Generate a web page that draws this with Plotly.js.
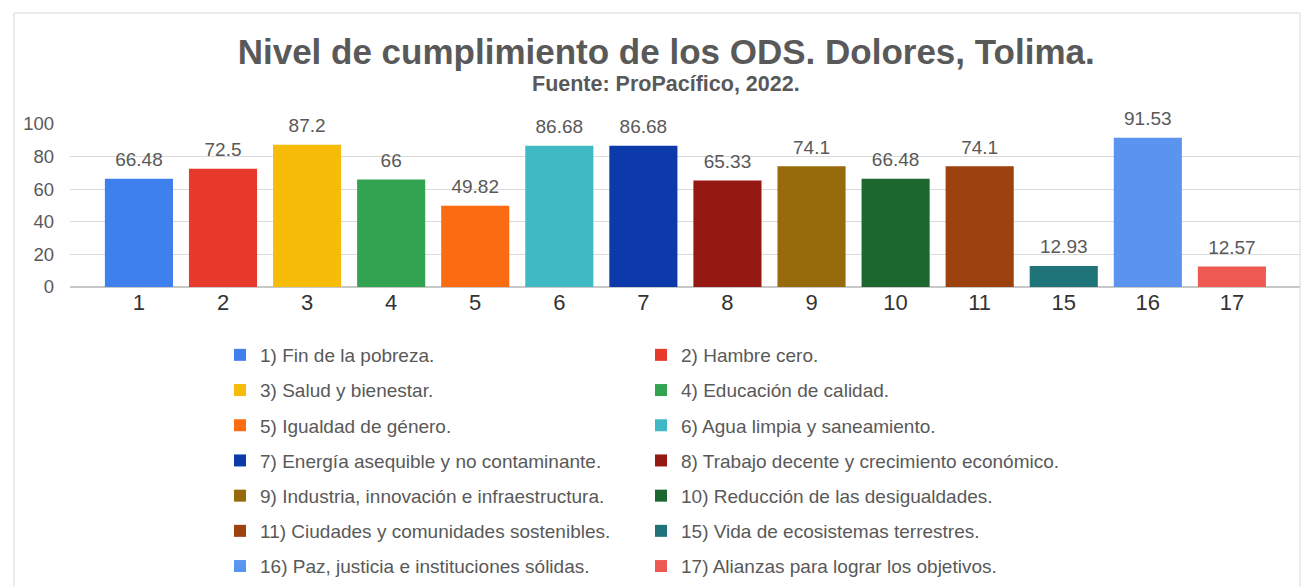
<!DOCTYPE html>
<html>
<head>
<meta charset="utf-8">
<script src="https://cdn.plot.ly/plotly-3.0.1.min.js"></script>
<style>
html,body{margin:0;padding:0;background:#fff;}
#chart{width:1314px;height:586px;}
</style>
</head>
<body>
<div id="chart"></div>
<script>
const categories = ["1","2","3","4","5","6","7","8","9","10","11","15","16","17"];
const values = [66.48, 72.5, 87.2, 66, 49.82, 86.68, 86.68, 65.33, 74.1, 66.48, 74.1, 12.93, 91.53, 12.57];
const valueLabels = ["66.48","72.5","87.2","66","49.82","86.68","86.68","65.33","74.1","66.48","74.1","12.93","91.53","12.57"];
const legendNames = [
  "1) Fin de la pobreza.",
  "2) Hambre cero.",
  "3) Salud y bienestar.",
  "4) Educación de calidad.",
  "5) Igualdad de género.",
  "6) Agua limpia y saneamiento.",
  "7) Energía asequible y no contaminante.",
  "8) Trabajo decente y crecimiento económico.",
  "9) Industria, innovación e infraestructura.",
  "10) Reducción de las desigualdades.",
  "11) Ciudades y comunidades sostenibles.",
  "15) Vida de ecosistemas terrestres.",
  "16) Paz, justicia e instituciones sólidas.",
  "17) Alianzas para lograr los objetivos."
];
const colors = ["#3f80ef","#e8392d","#f7bb0a","#32a350","#fb6c12","#3fbac4","#0c3aaa","#961812","#976b0c","#1c6630","#9c420f","#1e7479","#5a94ee","#ee5a52"];

const FONT = "Liberation Sans, Arial, sans-serif";

const traces = categories.map((c, i) => ({
  type: "bar",
  x: [c],
  y: [values[i]],
  name: legendNames[i],
  legendgroup: "g" + i,
  legend: (i % 2 === 0) ? "legend" : "legend2",
  marker: {color: colors[i], line: {width: 0}},
  hoverinfo: "x+y"
}));

// value labels above the bars
traces.push({
  type: "scatter",
  mode: "markers+text",
  x: categories,
  y: values,
  text: valueLabels,
  textposition: "top center",
  cliponaxis: false,
  marker: {size: 11, color: "rgba(0,0,0,0)"},
  textfont: {family: FONT, size: 19, color: "#595959"},
  showlegend: false,
  hoverinfo: "skip"
});

const legendCommon = {
  orientation: "v",
  xanchor: "left",
  yanchor: "top",
  font: {family: FONT, size: 19, color: "#595959"},
  bgcolor: "rgba(0,0,0,0)",
  tracegroupgap: 7.5,
  itemwidth: 30,
  traceorder: "grouped"
};

const layout = {
  width: 1314,
  height: 586,
  paper_bgcolor: "#ffffff",
  plot_bgcolor: "#ffffff",
  margin: {l: 70, r: 14, t: 124, b: 299, autoexpand: false},
  barmode: "overlay",
  bargap: 0.19,
  showlegend: true,
  title: {
    text: "<b>Nivel de cumplimiento de los ODS. Dolores, Tolima.</b>",
    font: {family: FONT, size: 35, color: "#595959"},
    x: 0.507, xanchor: "center",
    y: 1 - 52/586, yanchor: "middle", yref: "container"
  },
  annotations: [{
    text: "<b>Fuente: ProPacífico, 2022.</b>",
    xref: "paper", yref: "paper",
    x: (666 - 70)/1230, y: (287 - 84)/163,
    xanchor: "center", yanchor: "middle",
    showarrow: false,
    font: {family: FONT, size: 21.5, color: "#595959"}
  }],
  xaxis: {
    type: "category",
    categoryorder: "array",
    categoryarray: categories,
    range: [-0.82, 13.81],
    showgrid: false,
    zeroline: false,
    showline: false,
    ticks: "",
    tickfont: {family: FONT, size: 22, color: "#333333"},
    fixedrange: true
  },
  yaxis: {
    range: [0, 100],
    tickvals: [0, 20, 40, 60, 80, 100],
    showgrid: true,
    gridcolor: "#dadada",
    gridwidth: 1,
    zeroline: true,
    zerolinecolor: "#c8c8c8",
    zerolinewidth: 1.5,
    showline: false,
    ticks: "",
    ticklabelstandoff: 15,
    tickfont: {family: FONT, size: 18.5, color: "#595959"},
    fixedrange: true
  },
  legend: Object.assign({}, legendCommon, {x: (220 - 70)/1230, y: (287 - 336)/163}),
  legend2: Object.assign({}, legendCommon, {x: (641 - 70)/1230, y: (287 - 336)/163}),
  shapes: [{
    type: "rect", xref: "paper", yref: "paper",
    x0: -56/1230, x1: 1.0, y0: (287 - 590)/163, y1: (287 - 13)/163,
    line: {color: "#d9d9d9", width: 1}, fillcolor: "rgba(0,0,0,0)"
  }]
};

Plotly.newPlot("chart", traces, layout, {displayModeBar: false, staticPlot: true});
</script>
</body>
</html>
